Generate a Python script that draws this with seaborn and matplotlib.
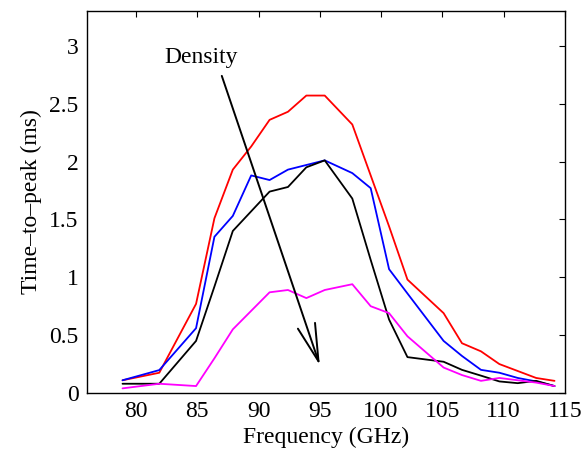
import numpy as np
import pandas as pd
import matplotlib
matplotlib.use('Agg')
import matplotlib.pyplot as plt
import seaborn as sns

# Frequency points (GHz)
freq = [78.9, 81.9, 84.9, 86.4, 87.9, 89.4, 90.9, 92.4, 93.9, 95.4, 97.65,
        99.15, 100.65, 102.15, 105.1, 106.6, 108.15, 109.65, 111.15, 112.65, 114.15]

# Time-to-peak (ms) for each density
red_vals = [0.11, 0.175, 0.77, 1.51, 1.93, 2.13, 2.36, 2.43, 2.57, 2.57, 2.32,
            1.88, 1.44, 0.98, 0.69, 0.43, 0.36, 0.25, 0.19, 0.13, 0.105]
blue_vals = [0.11, 0.198, 0.56, 1.35, 1.53, 1.88, 1.84, 1.93, 1.97, 2.01, 1.90,
             1.77, 1.07, 0.86, 0.45, 0.32, 0.20, 0.175, 0.13, 0.10, 0.06]
black_vals = [0.08, 0.08, 0.45, 0.92, 1.40, 1.57, 1.74, 1.78, 1.95, 2.01, 1.68,
              1.15, 0.635, 0.31, 0.27, 0.20, 0.15, 0.10, 0.085, 0.105, 0.06]
magenta_vals = [0.04, 0.08, 0.06, 0.30, 0.55, 0.71, 0.87, 0.89, 0.82, 0.89, 0.94,
                0.75, 0.69, 0.49, 0.22, 0.155, 0.105, 0.13, 0.11, 0.09, 0.06]

series = {'red': red_vals, 'blue': blue_vals, 'black': black_vals, 'magenta': magenta_vals}
df = pd.concat([pd.DataFrame({'freq': freq, 'ttp': v, 'series': k}) for k, v in series.items()])

sns.set_style('white')
plt.rcParams['font.family'] = ['Liberation Serif', 'DejaVu Serif']
plt.rcParams['text.color'] = 'black'
plt.rcParams['axes.labelcolor'] = 'black'

fig = plt.figure(figsize=(5.83, 4.61), dpi=100)
ax = fig.add_axes([0.1492, 0.1475, 0.8198, 0.8285])

sns.lineplot(data=df, x='freq', y='ttp', hue='series',
             palette={'red': '#ff0000', 'blue': '#0000ff', 'black': '#000000', 'magenta': '#ff00ff'},
             hue_order=['red', 'blue', 'black', 'magenta'],
             linewidth=1.3, legend=False, ax=ax, sort=False)

ax.set_xlim(76, 115)
ax.set_ylim(0, 3.3)
ax.set_xticks(range(80, 116, 5))
ax.set_yticks([0, 0.5, 1, 1.5, 2, 2.5, 3])
ax.set_yticklabels(['0', '0.5', '1', '1.5', '2', '2.5', '3'])
ax.tick_params(direction='in', length=4, width=0.8, top=True, right=True,
               labelsize=17, colors='black', pad=6)
for s in ax.spines.values():
    s.set_color('black')
    s.set_linewidth(1.0)

ax.set_xlabel('Frequency (GHz)', fontsize=17, labelpad=3)
ax.set_ylabel('Time\u2013to\u2013peak (ms)', fontsize=17, labelpad=5)

ax.annotate('', xy=(95.0, 0.24), xytext=(87.0, 2.74),
            arrowprops=dict(arrowstyle='->,head_length=2.7,head_width=0.65',
                            color='black', lw=1.4, mutation_scale=10, shrinkA=0, shrinkB=0))
ax.text(85.3, 2.9, 'Density', fontsize=17, ha='center', va='center')

plt.savefig('out.png', dpi=100)
